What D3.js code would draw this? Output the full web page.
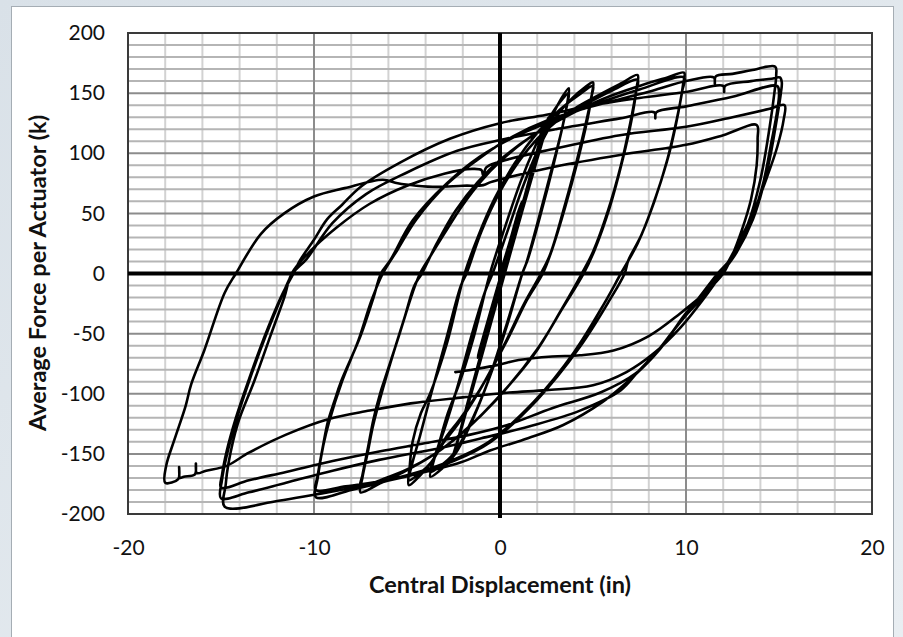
<!DOCTYPE html>
<html>
<head>
<meta charset="utf-8">
<script src="https://cdn.jsdelivr.net/npm/d3@7"></script>
<style>
  html, body { margin: 0; padding: 0; background: #ffffff; }
  svg { display: block; }
</style>
</head>
<body>
<svg id="chart" width="903" height="637"></svg>
<script>
// Axis ticks and titles
const xTicks = [-20, -10, 0, 10, 20];
const yTicks = [-200, -150, -100, -50, 0, 50, 100, 150, 200];
const xTitle = "Central Displacement (in)";
const yTitle = "Average Force per Actuator (k)";

// Load history, [displacement (in), force (k)], in the order it was recorded.
// Small elastic cycles around the origin
const elastic = [
  [0, 0], [0.5, 25], [1.0, 52], [1.2, 60],
  [0.9, 45], [0.3, 12], [-0.3, -20], [-0.8, -47], [-1.2, -70],
  [-0.9, -58], [-0.4, -32], [0.2, 2], [0.9, 40], [1.6, 80], [2.1, 108], [2.4, 125],
  [2.3, 115], [1.8, 88], [1.0, 45], [0.2, 2], [-0.6, -45], [-1.4, -90], [-2.0, -125], [-2.5, -150],
  [-2.3, -140], [-1.7, -105], [-0.9, -60], [0, -12], [0.8, 33], [1.6, 78], [2.2, 110], [2.6, 130],
  [2.5, 122], [2.0, 95], [1.2, 52], [0.4, 8], [-0.5, -42], [-1.4, -92], [-2.1, -130], [-2.6, -155]
];

// Cycles to about 3.7 in
const cycle375 = [
  [-2.4, -146], [-1.8, -112], [-1.0, -66], [-0.2, -20], [0.6, 25], [1.4, 68], [2.1, 102], [2.7, 127], [3.2, 143], [3.7, 154],
  [3.65, 145], [3.4, 125], [2.9, 92], [2.2, 50], [1.5, 12], [1.2, 0], [0.4, -42], [-0.6, -88], [-1.6, -126], [-2.4, -150], [-3.1, -162], [-3.75, -169],
  [-3.6, -158], [-3.33, -144], [-2.8, -116], [-2.2, -92], [-1.4, -52], [-0.54, 0], [0.3, 40], [1.1, 76], [1.9, 106], [2.6, 128], [3.2, 142], [3.7, 150],
  [3.6, 140], [3.3, 118], [2.8, 88], [2.1, 47], [1.4, 8], [1.2, 0], [0.3, -45], [-0.7, -92], [-1.7, -128], [-2.5, -150], [-3.2, -160], [-3.75, -165]
];

// Cycles to 5 in
const cycle5 = [
  [-3.6, -156], [-3.0, -130], [-2.3, -95], [-1.5, -50], [-0.8, -15], [-0.4, 0], [0.4, 35], [1.3, 75], [2.2, 108], [3.1, 132], [3.9, 146], [4.5, 154], [5.0, 159],
  [4.95, 150], [4.7, 128], [4.2, 95], [3.5, 55], [2.8, 20], [2.3, 0], [1.45, -22], [0.4, -55], [-1.1, -97], [-2.2, -122], [-2.85, -135], [-3.6, -155], [-4.3, -168], [-4.9, -176],
  [-4.85, -160], [-4.7, -140], [-4.25, -116], [-3.76, -100], [-2.85, -58], [-1.9, 0], [-1.2, 30], [-0.3, 62], [0.8, 92], [2.0, 117], [3.2, 136], [4.2, 148], [5.0, 156],
  [4.9, 146], [4.6, 124], [4.1, 92], [3.4, 52], [2.7, 16], [2.2, 0], [1.3, -25], [0.2, -60], [-1.2, -100], [-2.3, -126], [-3.0, -140], [-3.7, -157], [-4.3, -166], [-4.9, -172]
];

// Cycles to 7.5 in
const cycle75 = [
  [-4.75, -160], [-4.3, -135], [-3.7, -100], [-2.9, -55], [-2.1, -10], [-1.8, 0], [-1.0, 35], [0, 68], [1, 93], [2, 112], [3, 126], [4.2, 139], [5.5, 150], [6.5, 158], [7.4, 165],
  [7.35, 155], [7.1, 130], [6.6, 95], [5.9, 55], [5.1, 20], [4.5, 0], [3.4, -28], [2.0, -63], [-0.2, -105], [-2.0, -132], [-3.5, -150], [-5.0, -163], [-6.3, -171], [-7.5, -177],
  [-7.4, -168], [-7.1, -145], [-6.8, -121], [-6.45, -100], [-6.2, -88], [-5.5, -55], [-4.7, -16], [-4.3, 0], [-3.76, 14], [-3.0, 33], [-2.0, 57], [-1.0, 77], [0, 93], [1.5, 112], [3.0, 127], [4.5, 140], [6.0, 152], [7.4, 161],
  [7.3, 150], [7.0, 125], [6.5, 90], [5.8, 52], [5.0, 18], [4.4, 0], [3.3, -30], [1.8, -68], [-0.4, -108], [-2.2, -135], [-3.8, -153], [-5.3, -166], [-6.5, -175], [-7.5, -182]
];

// Cycles to 10 in
const cycle10 = [
  [-7.4, -170], [-7.1, -148], [-6.8, -125], [-6.0, -80], [-5.1, -35], [-4.6, -10], [-4.2, 0], [-3.4, 25], [-2.4, 52], [-1.2, 76], [0.2, 97], [1.8, 115], [3.5, 130], [5.5, 145], [7.5, 156], [9.0, 163], [9.9, 167],
  [9.85, 158], [9.6, 135], [9.1, 100], [8.4, 65], [7.6, 32], [6.9, 11], [6.7, 0], [5.9, -22], [4.3, -61], [2.0, -105], [-0.5, -140], [-2.5, -156], [-4.5, -166], [-6.5, -173], [-8.3, -177], [-9.9, -180],
  [-9.8, -168], [-9.5, -142], [-9.25, -123], [-8.9, -106], [-8.55, -90], [-7.5, -52], [-6.8, -20], [-6.4, 0], [-5.9, 11], [-4.7, 44], [-2.85, 75], [-1.1, 97], [0.7, 113], [2.5, 125], [5.0, 140], [7.5, 153], [9.9, 163],
  [9.8, 152], [9.5, 128], [9.0, 95], [8.3, 60], [7.4, 25], [6.5, 0], [5.6, -25], [4.0, -65], [1.8, -107], [-0.6, -140], [-3.0, -158], [-5.5, -170], [-8.0, -180], [-9.9, -186]
];

// First excursion to 15 in and back to -15 in
const cycle15a = [
  [-9.8, -170], [-9.5, -143], [-9.2, -124], [-8.5, -90], [-7.6, -55], [-6.9, -22], [-6.3, 0], [-5.5, 20], [-4.5, 45], [-2.8, 75], [-1.0, 97], [0.7, 114], [2.5, 127], [4.5, 137], [6.45, 145], [8.2, 152], [10, 160], [11.5, 163], [11.55, 158], [11.6, 164], [12.5, 166], [13.5, 169], [14.8, 172],
  [14.85, 165], [14.75, 150], [14.5, 122], [14.0, 78], [13.3, 40], [12.5, 15], [11.8, 0], [10.9, -18], [10.0, -33], [9.2, -50], [8.4, -66], [7.3, -83], [5.4, -99], [2.8, -112], [0.4, -126], [-1.6, -134], [-4.0, -141], [-6.5, -148], [-9.0, -156], [-11.5, -165], [-13.5, -172], [-15, -178]
];

// Second excursion
const cycle15b = [
  [-14.95, -168], [-14.7, -148], [-14.2, -120], [-13.5, -88], [-12.6, -50], [-11.7, -17], [-11.1, 0], [-10.75, 11], [-10.0, 28], [-9.3, 45], [-8.5, 57], [-7.5, 72], [-5.4, 92], [-2.7, 112], [0, 125], [2.5, 132], [5.0, 140], [7.5, 146], [10, 151], [12.0, 156], [12.05, 151], [12.1, 156], [13.5, 160], [14.6, 162], [15.05, 163],
  [15.15, 159], [15.1, 150], [14.9, 130], [14.4, 88], [13.6, 45], [12.7, 17], [11.9, 0], [11.0, -18], [10.1, -33], [9.2, -50], [8.6, -62], [7.4, -82], [6.5, -97], [4.3, -114], [1.6, -127], [-1.0, -137], [-2.9, -144], [-6.5, -155], [-9.0, -164], [-11.5, -174], [-13.5, -182], [-15, -187]
];

// Third excursion
const cycle15c = [
  [-14.95, -172], [-14.7, -152], [-14.2, -123], [-13.5, -90], [-12.6, -52], [-11.7, -18], [-11.15, 0], [-10.4, 12], [-9.0, 42], [-7.2, 66], [-5.0, 84], [-2.3, 102], [0, 111], [3.0, 120], [6.45, 129], [8.3, 134], [8.35, 129], [8.4, 134], [10, 139], [12.5, 147], [14.9, 156],
  [15.0, 150], [14.9, 135], [14.6, 110], [14.1, 72], [13.3, 36], [12.4, 12], [11.7, 0], [10.7, -20], [9.8, -37], [9.0, -55], [8.2, -70], [7.0, -88], [5.5, -107], [3.4, -126], [1.5, -137], [-0.5, -147], [-2.1, -157], [-4.8, -168], [-7.5, -177], [-10.0, -184], [-11.9, -189], [-14.8, -194]
];

// Fourth excursion, then out to -18 in
const cycle15d = [
  [-14.75, -176], [-14.6, -158], [-14.1, -125], [-13.2, -89], [-12.3, -50], [-11.6, -20], [-11.2, 0], [-10.3, 17], [-8.8, 38], [-7.0, 58], [-5.0, 73], [-3.0, 83], [-1.5, 87], [-1.0, 86], [-0.9, 81], [-0.75, 88], [0, 93], [3.0, 104], [6.45, 115], [10, 122], [12.5, 130], [14.5, 137], [15.3, 140],
  [15.25, 128], [14.9, 105], [14.35, 80], [13.6, 50], [12.7, 22], [11.9, 0], [10.9, -22], [9.7, -45], [8.3, -66], [6.8, -82], [5.0, -93], [2.5, -97], [0.5, -99], [-2.0, -103], [-4.8, -108], [-7.0, -114], [-9.2, -121], [-11.5, -134], [-13.5, -149], [-14.7, -160], [-15.8, -164], [-16.3, -166], [-16.35, -158], [-16.4, -167], [-17.0, -169], [-17.2, -170], [-17.25, -161], [-17.3, -171], [-18, -174]
];

// Reload from -18 in and final unloading
const cycle18 = [
  [-17.95, -160], [-17.5, -138], [-16.9, -110], [-16.6, -92], [-15.9, -64], [-14.8, -16], [-14.2, 0], [-12.85, 33], [-11.6, 50], [-10, 64], [-8.35, 71], [-6.3, 78], [-5.5, 75], [-4.5, 73], [-3.4, 72], [-2.0, 73], [-0.9, 73.5], [-0.5, 76], [0.2, 79], [3.0, 89], [6.45, 98.6], [10, 107], [12.0, 115], [13.8, 123.5],
  [13.85, 112], [13.8, 90], [13.5, 62], [13.0, 36], [12.4, 12], [12.0, 0], [11.1, -15], [9.7, -33], [8.0, -52], [6.1, -64], [4.3, -68], [2.8, -69], [1.0, -72], [-0.1, -76], [-1.5, -80], [-2.4, -82]
];

const record = [].concat(elastic, cycle375, cycle5, cycle75, cycle10,
  cycle15a, cycle15b, cycle15c, cycle15d, cycle18);

// ---------------------------------------------------------------
const svg = d3.select("#chart");
const W = 903, H = 637;

const x = d3.scaleLinear().domain([-20, 20]).range([128, 872]);
const y = d3.scaleLinear().domain([-200, 200]).range([514, 33]);

// Window background and white chart area
const bg = svg.append("defs").append("linearGradient")
  .attr("id", "bgGrad").attr("x1", 0).attr("y1", 0).attr("x2", 1).attr("y2", 1);
bg.append("stop").attr("offset", "0%").attr("stop-color", "#d9e1e8");
bg.append("stop").attr("offset", "100%").attr("stop-color", "#e9eef2");
svg.append("rect").attr("width", W).attr("height", H).attr("fill", "url(#bgGrad)");
svg.append("rect").attr("x", 11.5).attr("y", 6.5).attr("width", 882).attr("height", H)
  .attr("fill", "#ffffff").attr("stroke", "#a5adb4").attr("stroke-width", 1);

// Grid
const grid = svg.append("g");
const yMinor = d3.range(-200, 201, 10).filter(v => v % 50 !== 0);
const yMajor = d3.range(-200, 201, 50).filter(v => v !== 0);
const xMinor = d3.range(-20, 21, 2).filter(v => v % 10 !== 0);
const xMajor = d3.range(-20, 21, 10).filter(v => v !== 0);

grid.selectAll(".vmin").data(xMinor).join("line")
  .attr("x1", d => x(d)).attr("x2", d => x(d)).attr("y1", y(200)).attr("y2", y(-200))
  .attr("stroke", "#d2d2d2").attr("stroke-width", 2);
grid.selectAll(".hmin").data(yMinor).join("line")
  .attr("x1", x(-20)).attr("x2", x(20)).attr("y1", d => y(d)).attr("y2", d => y(d))
  .attr("stroke", "#b5b5b5").attr("stroke-width", 2);
grid.selectAll(".vmaj").data(xMajor).join("line")
  .attr("x1", d => x(d)).attr("x2", d => x(d)).attr("y1", y(200)).attr("y2", y(-200))
  .attr("stroke", "#8c8c8c").attr("stroke-width", 2);
grid.selectAll(".hmaj").data(yMajor).join("line")
  .attr("x1", x(-20)).attr("x2", x(20)).attr("y1", d => y(d)).attr("y2", d => y(d))
  .attr("stroke", "#8c8c8c").attr("stroke-width", 2);

// Plot frame
svg.append("rect")
  .attr("x", x(-20)).attr("y", y(200))
  .attr("width", x(20) - x(-20)).attr("height", y(-200) - y(200))
  .attr("fill", "none").attr("stroke", "#3a3a3a").attr("stroke-width", 2);

// Hysteresis record
const line = d3.line()
  .x(d => x(d[0])).y(d => y(d[1]))
  .curve(d3.curveCatmullRom.alpha(0.5));
svg.append("path").datum(record)
  .attr("d", line)
  .attr("fill", "none").attr("stroke", "#000").attr("stroke-width", 2.6)
  .attr("stroke-linejoin", "round").attr("stroke-linecap", "round");

// Zero axes
svg.append("line").attr("x1", x(-20)).attr("x2", x(20)).attr("y1", y(0)).attr("y2", y(0))
  .attr("stroke", "#000").attr("stroke-width", 4);
svg.append("line").attr("x1", x(0)).attr("x2", x(0)).attr("y1", y(200)).attr("y2", y(-200) + 4)
  .attr("stroke", "#000").attr("stroke-width", 4);

// Tick labels (plain hyphen for negatives)
const font = "Lato, 'Open Sans', sans-serif";
const fmt = d => String(d);
const xAxis = svg.append("g").attr("transform", `translate(0,${y(-200)})`)
  .call(d3.axisBottom(x).tickValues(xTicks).tickSize(0).tickPadding(26).tickFormat(fmt));
const yAxis = svg.append("g").attr("transform", `translate(${x(-20)},0)`)
  .call(d3.axisLeft(y).tickValues(yTicks).tickSize(0).tickPadding(23).tickFormat(fmt));
[xAxis, yAxis].forEach(g => {
  g.select(".domain").remove();
  g.selectAll("text").attr("font-family", font).attr("font-size", 21).attr("fill", "#111");
});

// Axis titles
svg.append("text").attr("x", 500).attr("y", 593).attr("text-anchor", "middle")
  .attr("font-family", font).attr("font-weight", "bold").attr("font-size", 23.5).attr("fill", "#111")
  .text(xTitle);
svg.append("text").attr("transform", "translate(46,273) rotate(-90)").attr("text-anchor", "middle")
  .attr("font-family", font).attr("font-weight", "bold").attr("font-size", 23.5).attr("fill", "#111")
  .text(yTitle);
</script>
</body>
</html>
